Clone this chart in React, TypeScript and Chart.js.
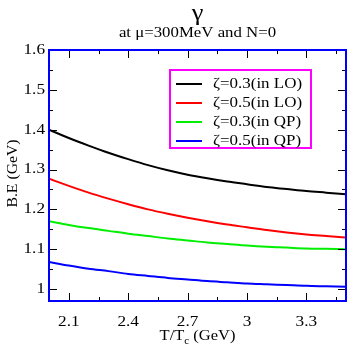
import React, { useEffect, useRef } from "react";
import { Chart, registerables } from "chart.js";

Chart.register(...registerables);

const temps = [2.0, 2.1, 2.2, 2.3, 2.4, 2.5, 2.6, 2.7, 2.8, 2.9, 3.0, 3.1, 3.2, 3.3, 3.4, 3.5];
const loZeta03 = [1.400, 1.379, 1.360, 1.342, 1.326, 1.311, 1.298, 1.287, 1.278, 1.270, 1.263, 1.256, 1.251, 1.246, 1.242, 1.238];
const loZeta05 = [1.277, 1.259, 1.242, 1.227, 1.213, 1.200, 1.189, 1.179, 1.170, 1.162, 1.155, 1.148, 1.142, 1.137, 1.133, 1.129];
const qpZeta03 = [1.170, 1.161, 1.153, 1.146, 1.139, 1.133, 1.127, 1.122, 1.117, 1.113, 1.109, 1.106, 1.104, 1.102, 1.101, 1.100];
const qpZeta05 = [1.068, 1.059, 1.051, 1.045, 1.038, 1.033, 1.028, 1.024, 1.020, 1.017, 1.014, 1.012, 1.010, 1.008, 1.007, 1.006];

const seriesLabels = ["ζ=0.3(in LO)", "ζ=0.5(in LO)", "ζ=0.3(in QP)", "ζ=0.5(in QP)"];
const seriesColors = ["#000000", "#ff0000", "#00ee00", "#0000ff"];

const xMajorTicks = [2.1, 2.4, 2.7, 3.0, 3.3];
const xTickLabels = ["2.1", "2.4", "2.7", "3", "3.3"];
const xMinorTicks = [2.25, 2.55, 2.85, 3.15, 3.45];
const yMajorTicks = [1.0, 1.1, 1.2, 1.3, 1.4, 1.5, 1.6];
const yTickLabels = ["1", "1.1", "1.2", "1.3", "1.4", "1.5", "1.6"];
const yMinorTicks = [1.05, 1.15, 1.25, 1.35, 1.45, 1.55];

const titleText = "γ";
const subtitleText = "at μ=300MeV and N=0";
const yTitle = "B.E (GeV)";

const SERIF = "'Liberation Serif', 'DejaVu Serif', serif";

function stretchedText(ctx: CanvasRenderingContext2D, text: string, x: number, y: number, sx: number, align: CanvasTextAlign) {
  ctx.save();
  ctx.translate(x, y);
  ctx.scale(sx, 1);
  ctx.textAlign = align;
  ctx.fillText(text, 0, 0);
  ctx.restore();
}

const decorPlugin = {
  id: "decor",
  afterDatasetsDraw(chart: any) {
    const ctx: CanvasRenderingContext2D = chart.ctx;
    const { left, right, top, bottom } = chart.chartArea;
    const xs = chart.scales.x;
    const ys = chart.scales.y;
    ctx.save();
    // ticks
    ctx.strokeStyle = "#000";
    ctx.lineWidth = 1;
    const major = 8;
    const minor = 4;
    ctx.beginPath();
    xMajorTicks.forEach((v) => {
      const px = Math.round(xs.getPixelForValue(v)) + 0.5;
      ctx.moveTo(px, bottom); ctx.lineTo(px, bottom - major);
      ctx.moveTo(px, top); ctx.lineTo(px, top + major);
    });
    xMinorTicks.forEach((v) => {
      const px = Math.round(xs.getPixelForValue(v)) + 0.5;
      ctx.moveTo(px, bottom); ctx.lineTo(px, bottom - minor);
      ctx.moveTo(px, top); ctx.lineTo(px, top + minor);
    });
    yMajorTicks.forEach((v) => {
      const py = Math.round(ys.getPixelForValue(v)) + 0.5;
      ctx.moveTo(left, py); ctx.lineTo(left + major, py);
      ctx.moveTo(right, py); ctx.lineTo(right - major, py);
    });
    yMinorTicks.forEach((v) => {
      const py = Math.round(ys.getPixelForValue(v)) + 0.5;
      ctx.moveTo(left, py); ctx.lineTo(left + minor, py);
      ctx.moveTo(right, py); ctx.lineTo(right - minor, py);
    });
    ctx.stroke();

    // frame
    ctx.strokeStyle = "#0000ff";
    ctx.lineWidth = 2;
    ctx.strokeRect(left, top, right - left, bottom - top);

    // tick labels
    ctx.fillStyle = "#000";
    ctx.font = `15px ${SERIF}`;
    ctx.textBaseline = "middle";
    xMajorTicks.forEach((v, i) => {
      stretchedText(ctx, xTickLabels[i], xs.getPixelForValue(v), bottom + 21, 1.15, "center");
    });
    yMajorTicks.forEach((v, i) => {
      stretchedText(ctx, yTickLabels[i], left - 4, ys.getPixelForValue(v), 1.15, "right");
    });

    // x title with subscript
    const cx = (left + right) / 2;
    ctx.font = `15px ${SERIF}`;
    const p1 = "T/T";
    const p3 = " (GeV)";
    const sx = 1.1;
    const w1 = ctx.measureText(p1).width * sx;
    const w3 = ctx.measureText(p3).width * sx;
    ctx.font = `10px ${SERIF}`;
    const w2 = ctx.measureText("c").width * sx;
    const total = w1 + w2 + w3;
    let xx = cx - total / 2;
    const ty = bottom + 35;
    ctx.font = `15px ${SERIF}`;
    stretchedText(ctx, p1, xx, ty, sx, "left");
    xx += w1;
    ctx.font = `10px ${SERIF}`;
    stretchedText(ctx, "c", xx, ty + 5, sx, "left");
    xx += w2;
    ctx.font = `15px ${SERIF}`;
    stretchedText(ctx, p3, xx, ty, sx, "left");

    // y title
    ctx.save();
    ctx.translate(13, (top + bottom) / 2 - 2);
    ctx.rotate(-Math.PI / 2);
    ctx.font = `15px ${SERIF}`;
    stretchedText(ctx, yTitle, 0, 0, 1.05, "center");
    ctx.restore();

    // titles
    ctx.font = `24px ${SERIF}`;
    stretchedText(ctx, titleText, cx, 14, 1.1, "center");
    ctx.font = `14px ${SERIF}`;
    stretchedText(ctx, subtitleText, cx, 33, 1.2, "center");

    // legend
    const lx = 170, ly = 70, lw = 141, lh = 78;
    ctx.fillStyle = "#fff";
    ctx.fillRect(lx, ly, lw, lh);
    ctx.strokeStyle = "#ff00ff";
    ctx.lineWidth = 2;
    ctx.strokeRect(lx, ly, lw, lh);
    ctx.font = `15px ${SERIF}`;
    ctx.fillStyle = "#000";
    seriesLabels.forEach((lab, i) => {
      const yy = ly + 14 + i * 19;
      ctx.strokeStyle = seriesColors[i];
      ctx.lineWidth = 2;
      ctx.beginPath();
      ctx.moveTo(176, yy);
      ctx.lineTo(202, yy);
      ctx.stroke();
      ctx.fillStyle = "#000";
      stretchedText(ctx, lab, 213, yy, 1.13, "left");
    });
    ctx.restore();
  },
};

export default function App() {
  const ref = useRef<HTMLCanvasElement | null>(null);
  useEffect(() => {
    document.body.style.margin = "0";
    if (!ref.current) return;
    const seriesValues = [loZeta03, loZeta05, qpZeta03, qpZeta05];
    const chart = new Chart(ref.current, {
      type: "line",
      data: {
        datasets: seriesValues.map((vals, i) => ({
          label: seriesLabels[i],
          data: temps.map((t, j) => ({ x: t, y: vals[j] })),
          borderColor: seriesColors[i],
          borderWidth: 2,
          pointRadius: 0,
          fill: false,
          cubicInterpolationMode: "monotone" as const,
        })),
      },
      options: {
        animation: false,
        responsive: false,
        devicePixelRatio: 1,
        layout: { padding: { left: 49, right: 3, top: 50, bottom: 48 } },
        plugins: { legend: { display: false }, tooltip: { enabled: false }, title: { display: false } },
        scales: {
          x: { type: "linear", min: 2.0, max: 3.5, display: false },
          y: { type: "linear", min: 0.97, max: 1.6, display: false },
        },
      },
      plugins: [decorPlugin],
    });
    return () => chart.destroy();
  }, []);
  return (
    <div style={{ width: 349, height: 349, background: "#fff" }}>
      <canvas ref={ref} width={349} height={349} style={{ display: "block" }} />
    </div>
  );
}
